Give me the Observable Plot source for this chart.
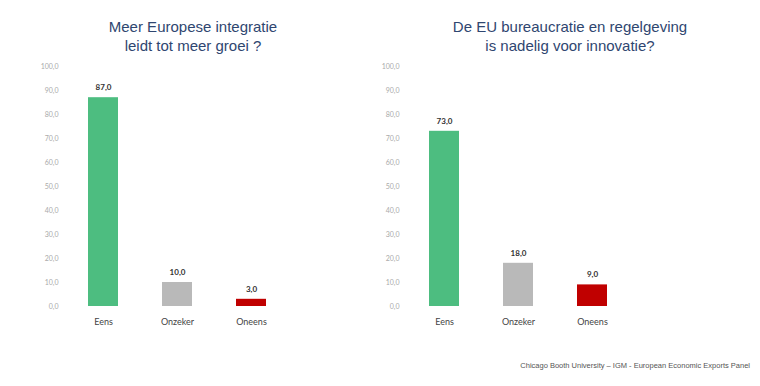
<!DOCTYPE html>
<html>
<head>
<meta charset="utf-8">
<script src="https://cdn.jsdelivr.net/npm/d3@7"></script>
<script src="https://cdn.jsdelivr.net/npm/@observablehq/plot@0.6"></script>
<style>
  html, body { margin: 0; padding: 0; background: #fff; }
  #wrap { position: relative; width: 760px; height: 386px; overflow: hidden; font-family: "Liberation Sans", Arial, sans-serif; }
  .title { position: absolute; width: 340px; text-align: center; font-size: 15px; line-height: 19px; color: #2f4670; }
  .chart { position: absolute; top: 50px; }
  #caption { position: absolute; right: 10px; top: 361px; font-size: 7.5px; color: #555; white-space: nowrap; }
</style>
</head>
<body>
<div id="wrap">
  <div class="title" id="t1" style="left:23px; top:17px;"></div>
  <div class="title" id="t2" style="left:400px; top:17px;"></div>
  <div class="chart" id="c1" style="left:0px;"></div>
  <div class="chart" id="c2" style="left:341px;"></div>
  <div id="caption"></div>
</div>
<script>
const categories = ["Eens", "Onzeker", "Oneens"];
const colors = ["#4dbd80", "#b9b9b9", "#c00000"];
const titles = [
  ["Meer Europese integratie", "leidt tot meer groei ?"],
  ["De EU bureaucratie en regelgeving", "is nadelig voor innovatie?"]
];
const valuesIntegratie = [87.0, 10.0, 3.0];
const valuesBureaucratie = [73.0, 18.0, 9.0];
const yTicks = [0, 10, 20, 30, 40, 50, 60, 70, 80, 90, 100];
const captionText = "Chicago Booth University \u2013 IGM - European Economic Exports Panel";

const fmt = d => d.toFixed(1).replace(".", ",");

function makeChart(values) {
  const data = categories.map((c, i) => ({cat: c, value: values[i], color: colors[i]}));
  return Plot.plot({
    width: 341,
    height: 290,
    marginTop: 16,
    marginBottom: 34,
    marginLeft: 62,
    marginRight: 50,
    style: {fontFamily: "Lato, 'Liberation Sans', sans-serif", background: "transparent"},
    x: {domain: categories, paddingInner: 0.6, paddingOuter: 0.335, label: null},
    y: {domain: [0, 100], label: null},
    marks: [
      Plot.barY(data, {x: "cat", y: "value", fill: "color"}),
      Plot.text(data, {x: "cat", y: "value", text: d => fmt(d.value), dy: -10, fontSize: 8, fontWeight: "bold", fill: "#333"}),
      Plot.axisY({ticks: yTicks, tickFormat: fmt, tickSize: 0, tickPadding: 4, fontSize: 7, fill: "#aaa", label: null}),
      Plot.axisX({tickSize: 0, tickPadding: 12, fontSize: 9, fill: "#444", label: null})
    ]
  });
}

document.getElementById("t1").innerHTML = titles[0].join("<br>");
document.getElementById("t2").innerHTML = titles[1].join("<br>");
document.getElementById("c1").appendChild(makeChart(valuesIntegratie));
document.getElementById("c2").appendChild(makeChart(valuesBureaucratie));
document.getElementById("caption").textContent = captionText;
</script>
</body>
</html>
